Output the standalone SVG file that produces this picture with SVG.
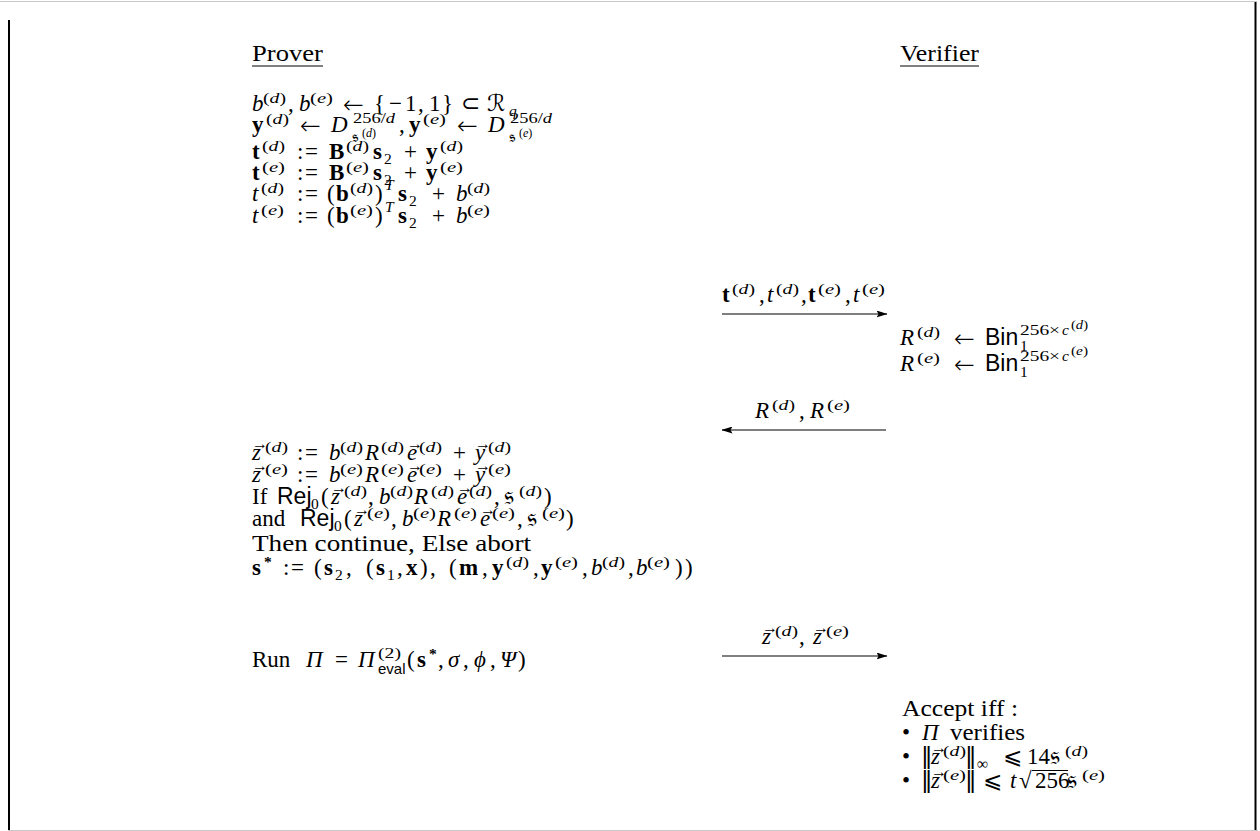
<svg xmlns="http://www.w3.org/2000/svg" width="1260" height="831" viewBox="0 0 1260 831">
<defs>
<style>
text{font-family:"Liberation Serif","DejaVu Serif",serif;font-size:23px;fill:#000}
.i{font-style:italic}
.b{font-weight:bold}
.sf{font-family:"Liberation Sans","DejaVu Sans",sans-serif;font-style:normal}
.s{font-size:15.5px}
.ss{font-size:12px}
.v{font-size:16px;font-style:normal}
.fk{font-family:"DejaVu Sans","DejaVu Serif","Noto Sans",serif;font-style:normal;font-size:26px}
.cal{font-family:"DejaVu Serif","DejaVu Sans",serif;font-style:normal}
.sym{font-family:"DejaVu Sans","DejaVu Serif",sans-serif}
.ar{font-family:"DejaVu Sans","DejaVu Serif",sans-serif;font-size:25px;font-weight:200}
.nb{font-family:"DejaVu Sans","DejaVu Serif",sans-serif;font-size:23px}
.conn{stroke:#000;stroke-width:1.2;fill:none}
.rule{stroke:#000;stroke-width:1}
</style>
<marker id="ah" markerUnits="userSpaceOnUse" markerWidth="11" markerHeight="7" refX="10.5" refY="3.5" orient="auto">
<path d="M0,0 L11,3.5 L0,7 L2,3.5 Z" fill="#000"/>
</marker>
</defs>
<rect width="1260" height="831" fill="#fff"/>
<g id="frame">
<line x1="0" y1="1.5" x2="1257" y2="1.5" stroke="#c8c8c8" stroke-width="1"/>
<line x1="1255.5" y1="2" x2="1255.5" y2="830" stroke="#000" stroke-width="2"/>
<line x1="8" y1="830.5" x2="1258" y2="830.5" stroke="#c8c8c8" stroke-width="1"/>
<line x1="9" y1="20" x2="9" y2="830" stroke="#000" stroke-width="2"/>
</g>

<g id="prover-header">
<text x="252" y="61" textLength="71" lengthAdjust="spacingAndGlyphs">Prover</text>
<line class="rule" x1="252" y1="66" x2="323" y2="66"/>
</g>
<g id="verifier-header">
<text x="900" y="61" textLength="79" lengthAdjust="spacingAndGlyphs">Verifier</text>
<line class="rule" x1="900" y1="66" x2="979" y2="66"/>
</g>

<g id="prover-setup">
<text><tspan class="i" x="252" y="111">b</tspan><tspan class="s" x="263" y="103" textLength="23" lengthAdjust="spacingAndGlyphs">(<tspan class="i">d</tspan>)</tspan><tspan x="288" y="111">,</tspan><tspan class="i" x="299" y="111">b</tspan><tspan class="s" x="310" y="103" textLength="23" lengthAdjust="spacingAndGlyphs">(<tspan class="i">e</tspan>)</tspan><tspan class="ar" x="343" y="113">←</tspan><tspan x="374" y="111">{</tspan><tspan x="389" y="111">−</tspan><tspan x="405" y="111">1</tspan><tspan x="418" y="111">,</tspan><tspan x="429" y="111">1</tspan><tspan x="442" y="111">}</tspan><tspan class="sym" x="461" y="111">⊂</tspan><tspan class="cal" x="487" y="111">ℛ</tspan><tspan class="s i" x="509" y="116">q</tspan></text>

<text><tspan class="b" x="252" y="132">y</tspan><tspan class="s" x="266" y="124" textLength="23" lengthAdjust="spacingAndGlyphs">(<tspan class="i">d</tspan>)</tspan><tspan class="ar" x="300" y="134">←</tspan><tspan class="i" x="331" y="132">D</tspan><tspan class="s" x="353" y="123" textLength="42" lengthAdjust="spacingAndGlyphs">256/<tspan class="i">d</tspan></tspan><tspan class="fk" x="352" y="142" style="font-size:17px">𝔰</tspan><tspan class="ss" x="362" y="137">(<tspan class="i">d</tspan>)</tspan><tspan x="399" y="132">,</tspan><tspan class="b" x="409" y="132">y</tspan><tspan class="s" x="423" y="124" textLength="23" lengthAdjust="spacingAndGlyphs">(<tspan class="i">e</tspan>)</tspan><tspan class="ar" x="457" y="134">←</tspan><tspan class="i" x="488" y="132">D</tspan><tspan class="s" x="510" y="123" textLength="42" lengthAdjust="spacingAndGlyphs">256/<tspan class="i">d</tspan></tspan><tspan class="fk" x="509" y="142" style="font-size:17px">𝔰</tspan><tspan class="ss" x="519" y="137">(<tspan class="i">e</tspan>)</tspan></text>

<text><tspan class="b" x="252" y="159">t</tspan><tspan class="s" x="262" y="151" textLength="23" lengthAdjust="spacingAndGlyphs">(<tspan class="i">d</tspan>)</tspan><tspan x="297" y="159">:</tspan><tspan x="305" y="159">=</tspan><tspan class="b" x="329" y="159">B</tspan><tspan class="s" x="346" y="151" textLength="23" lengthAdjust="spacingAndGlyphs">(<tspan class="i">d</tspan>)</tspan><tspan class="b" x="373" y="159">s</tspan><tspan class="s" x="384" y="164">2</tspan><tspan x="404" y="159">+</tspan><tspan class="b" x="426" y="159">y</tspan><tspan class="s" x="440" y="151" textLength="23" lengthAdjust="spacingAndGlyphs">(<tspan class="i">d</tspan>)</tspan></text>

<text><tspan class="b" x="252" y="180">t</tspan><tspan class="s" x="262" y="172" textLength="23" lengthAdjust="spacingAndGlyphs">(<tspan class="i">e</tspan>)</tspan><tspan x="297" y="180">:</tspan><tspan x="305" y="180">=</tspan><tspan class="b" x="329" y="180">B</tspan><tspan class="s" x="346" y="172" textLength="23" lengthAdjust="spacingAndGlyphs">(<tspan class="i">e</tspan>)</tspan><tspan class="b" x="373" y="180">s</tspan><tspan class="s" x="384" y="185">2</tspan><tspan x="404" y="180">+</tspan><tspan class="b" x="426" y="180">y</tspan><tspan class="s" x="440" y="172" textLength="23" lengthAdjust="spacingAndGlyphs">(<tspan class="i">e</tspan>)</tspan></text>

<text><tspan class="i" x="252" y="201">t</tspan><tspan class="s" x="261" y="193" textLength="23" lengthAdjust="spacingAndGlyphs">(<tspan class="i">d</tspan>)</tspan><tspan x="297" y="201">:</tspan><tspan x="305" y="201">=</tspan><tspan x="327" y="201">(</tspan><tspan class="b" x="336" y="201">b</tspan><tspan class="s" x="350" y="193" textLength="23" lengthAdjust="spacingAndGlyphs">(<tspan class="i">d</tspan>)</tspan><tspan x="375" y="201">)</tspan><tspan class="s i" x="385" y="190">T</tspan><tspan class="b" x="398" y="201">s</tspan><tspan class="s" x="409" y="206">2</tspan><tspan x="432" y="201">+</tspan><tspan class="i" x="456" y="201">b</tspan><tspan class="s" x="467" y="193" textLength="23" lengthAdjust="spacingAndGlyphs">(<tspan class="i">d</tspan>)</tspan></text>

<text><tspan class="i" x="252" y="223">t</tspan><tspan class="s" x="261" y="215" textLength="23" lengthAdjust="spacingAndGlyphs">(<tspan class="i">e</tspan>)</tspan><tspan x="297" y="223">:</tspan><tspan x="305" y="223">=</tspan><tspan x="327" y="223">(</tspan><tspan class="b" x="336" y="223">b</tspan><tspan class="s" x="350" y="215" textLength="23" lengthAdjust="spacingAndGlyphs">(<tspan class="i">e</tspan>)</tspan><tspan x="375" y="223">)</tspan><tspan class="s i" x="385" y="212">T</tspan><tspan class="b" x="398" y="223">s</tspan><tspan class="s" x="409" y="228">2</tspan><tspan x="432" y="223">+</tspan><tspan class="i" x="456" y="223">b</tspan><tspan class="s" x="467" y="215" textLength="23" lengthAdjust="spacingAndGlyphs">(<tspan class="i">e</tspan>)</tspan></text>
</g>

<g id="verifier-challenge">
<text><tspan class="i" x="900" y="345">R</tspan><tspan class="s" x="917" y="337" textLength="23" lengthAdjust="spacingAndGlyphs">(<tspan class="i">d</tspan>)</tspan><tspan class="ar" x="954" y="347">←</tspan><tspan class="sf" x="985" y="345">Bin</tspan><tspan class="s" x="1020" y="351">1</tspan><tspan class="s" x="1020" y="335" textLength="40" lengthAdjust="spacingAndGlyphs">256×</tspan><tspan class="s i" x="1062" y="335">c</tspan><tspan class="ss" x="1071" y="329" textLength="17" lengthAdjust="spacingAndGlyphs">(<tspan class="i">d</tspan>)</tspan></text>
<text><tspan class="i" x="900" y="371">R</tspan><tspan class="s" x="917" y="363" textLength="23" lengthAdjust="spacingAndGlyphs">(<tspan class="i">e</tspan>)</tspan><tspan class="ar" x="954" y="373">←</tspan><tspan class="sf" x="985" y="371">Bin</tspan><tspan class="s" x="1020" y="377">1</tspan><tspan class="s" x="1020" y="361" textLength="40" lengthAdjust="spacingAndGlyphs">256×</tspan><tspan class="s i" x="1062" y="361">c</tspan><tspan class="ss" x="1071" y="355" textLength="17" lengthAdjust="spacingAndGlyphs">(<tspan class="i">e</tspan>)</tspan></text>
</g>

<g id="prover-response">
<text><tspan class="i" x="252" y="460">z</tspan><tspan class="v" x="252" y="449">→</tspan><tspan class="s" x="265" y="452" textLength="23" lengthAdjust="spacingAndGlyphs">(<tspan class="i">d</tspan>)</tspan><tspan x="297" y="460">:</tspan><tspan x="305" y="460">=</tspan><tspan class="i" x="329" y="460">b</tspan><tspan class="s" x="340" y="452" textLength="23" lengthAdjust="spacingAndGlyphs">(<tspan class="i">d</tspan>)</tspan><tspan class="i" x="365" y="460">R</tspan><tspan class="s" x="381" y="452" textLength="23" lengthAdjust="spacingAndGlyphs">(<tspan class="i">d</tspan>)</tspan><tspan class="i" x="407" y="460">e</tspan><tspan class="v" x="407" y="449">→</tspan><tspan class="s" x="419" y="452" textLength="23" lengthAdjust="spacingAndGlyphs">(<tspan class="i">d</tspan>)</tspan><tspan x="453" y="460">+</tspan><tspan class="i" x="475" y="460">y</tspan><tspan class="v" x="475" y="449">→</tspan><tspan class="s" x="488" y="452" textLength="23" lengthAdjust="spacingAndGlyphs">(<tspan class="i">d</tspan>)</tspan></text>

<text><tspan class="i" x="252" y="482">z</tspan><tspan class="v" x="252" y="471">→</tspan><tspan class="s" x="265" y="474" textLength="23" lengthAdjust="spacingAndGlyphs">(<tspan class="i">e</tspan>)</tspan><tspan x="297" y="482">:</tspan><tspan x="305" y="482">=</tspan><tspan class="i" x="329" y="482">b</tspan><tspan class="s" x="340" y="474" textLength="23" lengthAdjust="spacingAndGlyphs">(<tspan class="i">e</tspan>)</tspan><tspan class="i" x="365" y="482">R</tspan><tspan class="s" x="381" y="474" textLength="23" lengthAdjust="spacingAndGlyphs">(<tspan class="i">e</tspan>)</tspan><tspan class="i" x="407" y="482">e</tspan><tspan class="v" x="407" y="471">→</tspan><tspan class="s" x="419" y="474" textLength="23" lengthAdjust="spacingAndGlyphs">(<tspan class="i">e</tspan>)</tspan><tspan x="453" y="482">+</tspan><tspan class="i" x="475" y="482">y</tspan><tspan class="v" x="475" y="471">→</tspan><tspan class="s" x="488" y="474" textLength="23" lengthAdjust="spacingAndGlyphs">(<tspan class="i">e</tspan>)</tspan></text>

<text><tspan x="252" y="504">If</tspan><tspan class="sf" x="277" y="504">Rej</tspan><tspan class="s" x="311" y="509">0</tspan><tspan x="321" y="504">(</tspan><tspan class="i" x="331" y="504">z</tspan><tspan class="v" x="331" y="493">→</tspan><tspan class="s" x="344" y="496" textLength="23" lengthAdjust="spacingAndGlyphs">(<tspan class="i">d</tspan>)</tspan><tspan x="368" y="504">,</tspan><tspan class="i" x="379" y="504">b</tspan><tspan class="s" x="390" y="496" textLength="23" lengthAdjust="spacingAndGlyphs">(<tspan class="i">d</tspan>)</tspan><tspan class="i" x="414" y="504">R</tspan><tspan class="s" x="431" y="496" textLength="23" lengthAdjust="spacingAndGlyphs">(<tspan class="i">d</tspan>)</tspan><tspan class="i" x="457" y="504">e</tspan><tspan class="v" x="457" y="493">→</tspan><tspan class="s" x="469" y="496" textLength="23" lengthAdjust="spacingAndGlyphs">(<tspan class="i">d</tspan>)</tspan><tspan x="494" y="504">,</tspan><tspan class="fk" x="504" y="504">𝔰</tspan><tspan class="s" x="519" y="496" textLength="23" lengthAdjust="spacingAndGlyphs">(<tspan class="i">d</tspan>)</tspan><tspan x="544" y="504">)</tspan></text>

<text><tspan x="252" y="526">and</tspan><tspan class="sf" x="300" y="526">Rej</tspan><tspan class="s" x="334" y="531">0</tspan><tspan x="344" y="526">(</tspan><tspan class="i" x="354" y="526">z</tspan><tspan class="v" x="354" y="515">→</tspan><tspan class="s" x="367" y="518" textLength="23" lengthAdjust="spacingAndGlyphs">(<tspan class="i">e</tspan>)</tspan><tspan x="391" y="526">,</tspan><tspan class="i" x="402" y="526">b</tspan><tspan class="s" x="413" y="518" textLength="23" lengthAdjust="spacingAndGlyphs">(<tspan class="i">e</tspan>)</tspan><tspan class="i" x="437" y="526">R</tspan><tspan class="s" x="454" y="518" textLength="23" lengthAdjust="spacingAndGlyphs">(<tspan class="i">e</tspan>)</tspan><tspan class="i" x="480" y="526">e</tspan><tspan class="v" x="480" y="515">→</tspan><tspan class="s" x="492" y="518" textLength="23" lengthAdjust="spacingAndGlyphs">(<tspan class="i">e</tspan>)</tspan><tspan x="517" y="526">,</tspan><tspan class="fk" x="527" y="526">𝔰</tspan><tspan class="s" x="542" y="518" textLength="23" lengthAdjust="spacingAndGlyphs">(<tspan class="i">e</tspan>)</tspan><tspan x="566" y="526">)</tspan></text>

<text x="252" y="551" textLength="279" lengthAdjust="spacingAndGlyphs">Then continue, Else abort</text>

<text><tspan class="b" x="252" y="575">s</tspan><tspan class="s b" x="264" y="567">*</tspan><tspan x="283" y="575">:</tspan><tspan x="291" y="575">=</tspan><tspan x="314" y="575">(</tspan><tspan class="b" x="324" y="575">s</tspan><tspan class="s" x="335" y="580">2</tspan><tspan x="346" y="575">,</tspan><tspan x="366" y="575">(</tspan><tspan class="b" x="376" y="575">s</tspan><tspan class="s" x="387" y="580">1</tspan><tspan x="397" y="575">,</tspan><tspan class="b" x="406" y="575">x</tspan><tspan x="420" y="575">)</tspan><tspan x="430" y="575">,</tspan><tspan x="449" y="575">(</tspan><tspan class="b" x="459" y="575">m</tspan><tspan x="482" y="575">,</tspan><tspan class="b" x="492" y="575">y</tspan><tspan class="s" x="506" y="567" textLength="23" lengthAdjust="spacingAndGlyphs">(<tspan class="i">d</tspan>)</tspan><tspan x="533" y="575">,</tspan><tspan class="b" x="541" y="575">y</tspan><tspan class="s" x="555" y="567" textLength="23" lengthAdjust="spacingAndGlyphs">(<tspan class="i">e</tspan>)</tspan><tspan x="582" y="575">,</tspan><tspan class="i" x="591" y="575">b</tspan><tspan class="s" x="602" y="567" textLength="23" lengthAdjust="spacingAndGlyphs">(<tspan class="i">d</tspan>)</tspan><tspan x="628" y="575">,</tspan><tspan class="i" x="636" y="575">b</tspan><tspan class="s" x="647" y="567" textLength="23" lengthAdjust="spacingAndGlyphs">(<tspan class="i">e</tspan>)</tspan><tspan x="675" y="575">)</tspan><tspan x="685" y="575">)</tspan></text>

<text><tspan x="252" y="667">Run</tspan><tspan class="i" x="306" y="667">Π</tspan><tspan x="335" y="667">=</tspan><tspan class="i" x="358" y="667">Π</tspan><tspan class="s" x="378" y="658" textLength="23" lengthAdjust="spacingAndGlyphs">(2)</tspan><tspan class="sf" x="378" y="674" style="font-size:15px">eval</tspan><tspan x="407" y="667">(</tspan><tspan class="b" x="417" y="667">s</tspan><tspan class="s b" x="429" y="659">*</tspan><tspan x="438" y="667">,</tspan><tspan class="i" x="448" y="667">σ</tspan><tspan x="463" y="667">,</tspan><tspan class="i" x="474" y="667">ϕ</tspan><tspan x="490" y="667">,</tspan><tspan class="i" x="500" y="667">Ψ</tspan><tspan x="518" y="667">)</tspan></text>
</g>

<g id="verifier-check">
<text x="902" y="716" textLength="116" lengthAdjust="spacingAndGlyphs">Accept iff :</text>
<text><tspan x="902" y="740">•</tspan><tspan class="i" x="922" y="740">Π</tspan><tspan x="950" y="740" textLength="75" lengthAdjust="spacingAndGlyphs">verifies</tspan></text>
<text><tspan x="902" y="764">•</tspan><tspan class="nb" x="921" y="764">‖</tspan><tspan class="i" x="931" y="764">z</tspan><tspan class="v" x="931" y="753">→</tspan><tspan class="s" x="943" y="756" textLength="23" lengthAdjust="spacingAndGlyphs">(<tspan class="i">d</tspan>)</tspan><tspan class="nb" x="965" y="764">‖</tspan><tspan class="s" x="977" y="769">∞</tspan><tspan class="sym" x="1003" y="764">⩽</tspan><tspan x="1027" y="764">14</tspan><tspan class="fk" x="1050" y="764">𝔰</tspan><tspan class="s" x="1065" y="756" textLength="23" lengthAdjust="spacingAndGlyphs">(<tspan class="i">d</tspan>)</tspan></text>
<text><tspan x="902" y="788">•</tspan><tspan class="nb" x="921" y="788">‖</tspan><tspan class="i" x="931" y="788">z</tspan><tspan class="v" x="931" y="777">→</tspan><tspan class="s" x="943" y="780" textLength="23" lengthAdjust="spacingAndGlyphs">(<tspan class="i">e</tspan>)</tspan><tspan class="nb" x="965" y="788">‖</tspan><tspan class="sym" x="983" y="788">⩽</tspan><tspan class="i" x="1010" y="788">t</tspan><tspan x="1019" y="788">√</tspan><tspan x="1035" y="788">256</tspan><tspan class="fk" x="1067" y="788">𝔰</tspan><tspan class="s" x="1082" y="780" textLength="23" lengthAdjust="spacingAndGlyphs">(<tspan class="i">e</tspan>)</tspan></text>
<line class="rule" x1="1032" y1="770.5" x2="1068" y2="770.5"/>
</g>

<g id="connectors">
<line class="conn" x1="722" y1="314" x2="887" y2="314" marker-end="url(#ah)"/>
<line class="conn" x1="886" y1="430" x2="722" y2="430" marker-end="url(#ah)"/>
<line class="conn" x1="722" y1="656" x2="887" y2="656" marker-end="url(#ah)"/>
<text><tspan class="b" x="722" y="302">t</tspan><tspan class="s" x="732" y="294" textLength="23" lengthAdjust="spacingAndGlyphs">(<tspan class="i">d</tspan>)</tspan><tspan x="759" y="302">,</tspan><tspan class="i" x="767" y="302">t</tspan><tspan class="s" x="776" y="294" textLength="23" lengthAdjust="spacingAndGlyphs">(<tspan class="i">d</tspan>)</tspan><tspan x="801" y="302">,</tspan><tspan class="b" x="808" y="302">t</tspan><tspan class="s" x="818" y="294" textLength="23" lengthAdjust="spacingAndGlyphs">(<tspan class="i">e</tspan>)</tspan><tspan x="845" y="302">,</tspan><tspan class="i" x="853" y="302">t</tspan><tspan class="s" x="862" y="294" textLength="23" lengthAdjust="spacingAndGlyphs">(<tspan class="i">e</tspan>)</tspan></text>
<text><tspan class="i" x="755" y="418">R</tspan><tspan class="s" x="772" y="410" textLength="23" lengthAdjust="spacingAndGlyphs">(<tspan class="i">d</tspan>)</tspan><tspan x="799" y="418">,</tspan><tspan class="i" x="810" y="418">R</tspan><tspan class="s" x="827" y="410" textLength="23" lengthAdjust="spacingAndGlyphs">(<tspan class="i">e</tspan>)</tspan></text>
<text><tspan class="i" x="762" y="644">z</tspan><tspan class="v" x="762" y="633">→</tspan><tspan class="s" x="775" y="636" textLength="23" lengthAdjust="spacingAndGlyphs">(<tspan class="i">d</tspan>)</tspan><tspan x="799" y="644">,</tspan><tspan class="i" x="813" y="644">z</tspan><tspan class="v" x="813" y="633">→</tspan><tspan class="s" x="826" y="636" textLength="23" lengthAdjust="spacingAndGlyphs">(<tspan class="i">e</tspan>)</tspan></text>
</g>
</svg>
